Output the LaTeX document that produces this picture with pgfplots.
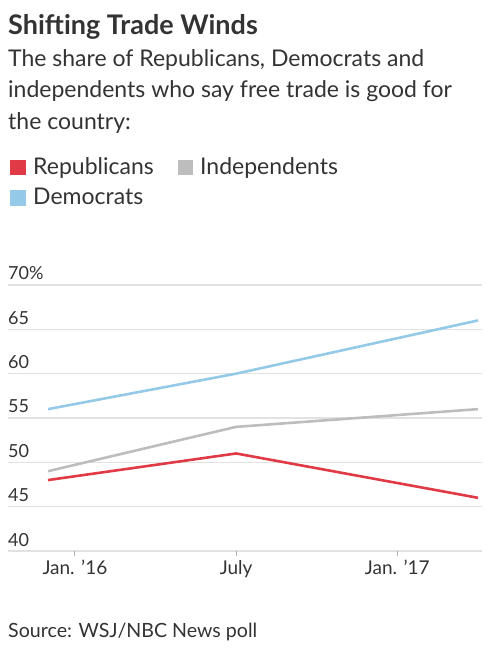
\documentclass[border=0pt]{standalone}
\usepackage{fontspec}
\setmainfont{Lato}
\usepackage{pgfplots}
\pgfplotsset{compat=1.18}
\definecolor{rep}{HTML}{E03A47}
\definecolor{dem}{HTML}{94CAE8}
\definecolor{ind}{HTML}{BDBDBD}
\definecolor{gridc}{HTML}{E2E2E2}
\definecolor{txt}{HTML}{333333}
\begin{document}
\begin{tikzpicture}[x=1pt,y=1pt]
\path[use as bounding box] (-8,-109) rectangle (492,551);
\begin{axis}[
  at={(0,0)}, anchor=south west, scale only axis,
  width=474pt, height=266pt,
  xmin=-2.49, xmax=15.15, ymin=40, ymax=70,
  axis line style={draw=none},
  ymajorgrids, grid style={gridc, line width=1.3pt},
  ytick={40,45,50,55,60,65,70},
  yticklabels={40,45,50,55,60,65,70\%},
  xtick={0,6,12},
  xticklabels={Jan. ’16,July,Jan. ’17},
  tick align=outside, major tick length=5pt,
  xtick pos=bottom, ytick pos=left,
  x tick style={draw=gray!60, line width=1pt},
  y tick style={draw=none},
  /pgf/number format/assume math mode=true,
  ticklabel style={font=\fontsize{19}{21}\selectfont, text=txt},
  yticklabel style={anchor=base west, xshift=5pt, yshift=5pt, inner sep=0pt, font=\fontsize{18}{20}\selectfont},
  xticklabel style={anchor=base, yshift=-18pt},
  clip=false,
]
\addplot[dem, line width=2.6pt] coordinates {(-1,56) (6,60) (15,66)};
\addplot[ind, line width=2.6pt] coordinates {(-1,49) (6,54) (15,56)};
\addplot[rep, line width=2.6pt] coordinates {(-1,48) (6,51) (15,46)};
\end{axis}
% title etc. pixel (px,py) -> (px-8, 551-py)
\node[anchor=base west, inner sep=0pt, text=txt, font=\fontsize{27}{30}\selectfont\bfseries] at (0,516) {Shifting Trade Winds};
\node[anchor=base west, inner sep=0pt, text=txt, font=\fontsize{23}{26}\selectfont] at (0,484) {The share of Republicans, Democrats and};
\node[anchor=base west, inner sep=0pt, text=txt, font=\fontsize{23}{26}\selectfont] at (0,453) {independents who say free trade is good for};
\node[anchor=base west, inner sep=0pt, text=txt, font=\fontsize{23}{26}\selectfont] at (0,421) {the country:};
\fill[rep] (2,376) rectangle (18,391);
\node[anchor=base west, inner sep=0pt, text=txt, font=\fontsize{23}{26}\selectfont] at (25,376) {Republicans};
\fill[ind] (170,376) rectangle (185,391);
\node[anchor=base west, inner sep=0pt, text=txt, font=\fontsize{23}{26}\selectfont] at (192,376) {Independents};
\fill[dem] (2,345) rectangle (18,361);
\node[anchor=base west, inner sep=0pt, text=txt, font=\fontsize{23}{26}\selectfont] at (25,346) {Democrats};
\node[anchor=base west, inner sep=0pt, text=txt, font=\fontsize{19.6}{22}\selectfont] at (0,-86) {Source: WSJ/NBC News poll};
\end{tikzpicture}
\end{document}
